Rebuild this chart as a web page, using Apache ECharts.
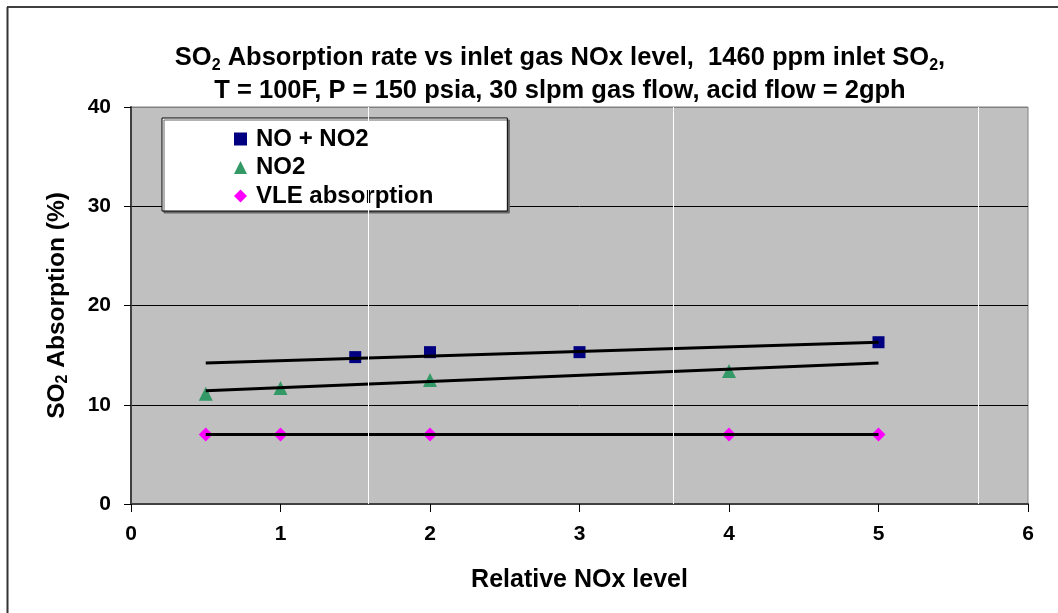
<!DOCTYPE html>
<html>
<head>
<meta charset="utf-8">
<script src="https://cdn.jsdelivr.net/npm/echarts@6/dist/echarts.min.js"></script>
<style>
html,body{margin:0;padding:0;background:#fff;}
#chart{width:1058px;height:613px;}
</style>
</head>
<body>
<div id="chart"></div>
<script>
// ---- data ----
var xTicks = [0, 1, 2, 3, 4, 5, 6];
var yTicks = [0, 10, 20, 30, 40];
var noNo2X = [1.5, 2, 3, 5];
var noNo2Y = [14.8, 15.3, 15.3, 16.3];
var no2X = [0.5, 1, 2, 4];
var no2Y = [11.1, 11.7, 12.5, 13.4];
var vleX = [0.5, 1, 2, 4, 5];
var vleY = [7.0, 7.0, 7.0, 7.0, 7.0];
// trendline end points (as drawn)
var noNo2TrendX = [0.5, 5];
var noNo2TrendY = [14.2, 16.3];
var no2TrendX = [0.5, 5];
var no2TrendY = [11.4, 14.2];
var vleTrendX = [0.5, 5];
var vleTrendY = [7.0, 7.0];
// white vertical reference lines seen in the plot
var vGridX = [1.59, 3.63, 5.67];
var seriesNames = ['NO + NO2', 'NO2', 'VLE absorption'];

function pairs(xs, ys) { return xs.map(function (x, i) { return [x, ys[i]]; }); }

var FONT = 'Liberation Sans';
var chart = echarts.init(document.getElementById('chart'), null, {renderer: 'canvas'});

var trendStyle = {color: '#000', width: 3};

var option = {
  backgroundColor: '#fff',
  animation: false,
  textStyle: {fontFamily: FONT},
  title: {
    left: 555,
    top: 36,
    textAlign: 'center',
    text: '{b|SO}{s|2}{b| Absorption rate vs inlet gas NOx level,  1460 ppm inlet SO}{s|2}{b|,}\n{b|T = 100F, P = 150 psia, 30 slpm gas flow, acid flow = 2gph}',
    textStyle: {
      rich: {
        b: {fontFamily: FONT, fontWeight: 'bold', fontSize: 25.5, lineHeight: 33, color: '#000'},
        s: {fontFamily: FONT, fontWeight: 'bold', fontSize: 16, lineHeight: 26, verticalAlign: 'bottom', color: '#000'}
      }
    }
  },
  grid: {
    left: 131, right: 30, top: 107, bottom: 109,
    show: true, backgroundColor: '#c0c0c0', borderColor: '#808080', borderWidth: 1
  },
  legend: {
    orient: 'vertical',
    left: 162, top: 118,
    data: seriesNames,
    backgroundColor: '#fff',
    borderColor: '#000', borderWidth: 1,
    shadowColor: '#666', shadowOffsetX: 2, shadowOffsetY: 2, shadowBlur: 0,
    padding: [9, 74, 3, 72],
    itemWidth: 13, itemHeight: 13, itemGap: 4.5,
    textStyle: {fontFamily: FONT, fontWeight: 'bold', fontSize: 24, lineHeight: 21, color: '#000', padding: [0, 0, 0, 4]}
  },
  xAxis: {
    type: 'value', min: xTicks[0], max: xTicks[xTicks.length - 1], interval: 1,
    name: 'Relative NOx level', nameLocation: 'middle', nameGap: 64,
    nameTextStyle: {fontFamily: FONT, fontWeight: 'bold', fontSize: 25, color: '#000'},
    axisLine: {show: true, onZero: false, lineStyle: {color: '#404040', width: 2}},
    axisTick: {show: true, inside: false, length: 8, lineStyle: {color: '#000'}},
    axisLabel: {margin: 20, fontFamily: FONT, fontWeight: 'bold', fontSize: 21, color: '#000',
      formatter: function (v) { return xTicks.indexOf(v) >= 0 ? String(v) : ''; }},
    splitLine: {show: false}
  },
  yAxis: {
    type: 'value', min: yTicks[0], max: yTicks[yTicks.length - 1], interval: 10,
    name: '{b|SO}{s|2}{b| Absorption (%)}', nameLocation: 'middle', nameGap: 60, nameRotate: 90,
    nameTextStyle: {
      rich: {
        b: {fontFamily: FONT, fontWeight: 'bold', fontSize: 24.5, lineHeight: 28, color: '#000'},
        s: {fontFamily: FONT, fontWeight: 'bold', fontSize: 16, lineHeight: 24, verticalAlign: 'bottom', color: '#000'}
      }
    },
    axisLine: {show: true, lineStyle: {color: '#404040', width: 2}},
    axisTick: {show: true, inside: false, length: 7, lineStyle: {color: '#000'}},
    axisLabel: {margin: 20, fontFamily: FONT, fontWeight: 'bold', fontSize: 21, color: '#000',
      formatter: function (v) { return yTicks.indexOf(v) >= 0 ? String(v) : ''; }},
    splitLine: {show: true, lineStyle: {color: ['#404040', '#000', '#000', '#000', '#808080'], width: 1}}
  },
  graphic: [
    {type: 'line', shape: {x1: 7, y1: 7, x2: 1058, y2: 7}, style: {stroke: '#000', lineWidth: 1.5}, silent: true},
    {type: 'line', shape: {x1: 7.5, y1: 7, x2: 7.5, y2: 613}, style: {stroke: '#333', lineWidth: 2}, silent: true}
  ],
  series: [
    {
      name: seriesNames[0], type: 'scatter', data: pairs(noNo2X, noNo2Y),
      symbol: 'rect', symbolSize: 12, z: 3,
      itemStyle: {color: '#000080', opacity: 1},
      markLine: {
        silent: true, symbol: 'none', label: {show: false}, animation: false,
        lineStyle: {color: '#ffffff', width: 1, type: 'solid'},
        data: vGridX.map(function (x) { return {xAxis: x}; })
      }
    },
    {
      name: seriesNames[1], type: 'scatter', data: pairs(no2X, no2Y),
      symbol: 'triangle', symbolSize: 14, z: 3,
      itemStyle: {color: '#339966', opacity: 1}
    },
    {
      name: seriesNames[2], type: 'scatter', data: pairs(vleX, vleY),
      symbol: 'diamond', symbolSize: 14, z: 3,
      itemStyle: {color: '#ff00ff', opacity: 1}
    },
    {type: 'line', data: pairs(noNo2TrendX, noNo2TrendY), showSymbol: false, symbol: 'none', z: 4, lineStyle: trendStyle, silent: true},
    {type: 'line', data: pairs(no2TrendX, no2TrendY), showSymbol: false, symbol: 'none', z: 4, lineStyle: trendStyle, silent: true},
    {type: 'line', data: pairs(vleTrendX, vleTrendY), showSymbol: false, symbol: 'none', z: 4, lineStyle: trendStyle, silent: true}
  ]
};
chart.setOption(option);
</script>
</body>
</html>
